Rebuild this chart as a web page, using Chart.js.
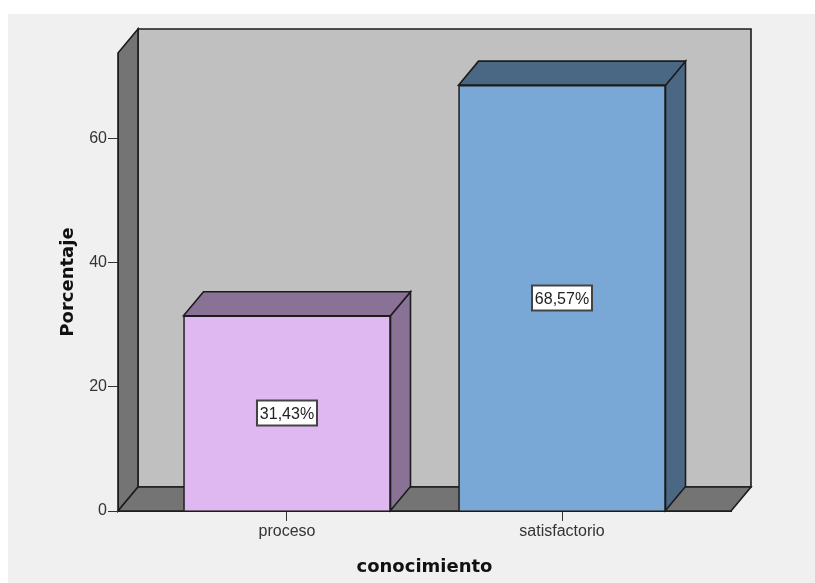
<!DOCTYPE html>
<html><head><meta charset="utf-8">
<script src="https://cdn.jsdelivr.net/npm/chart.js@4"></script>
<style>
html,body{margin:0;padding:0;background:#fff;}
#wrap{position:absolute;left:0;top:0;width:815px;height:583px;}
</style></head><body>
<div id="wrap"><canvas id="c" width="815" height="583"></canvas></div>
<script>
const categories = ['proceso', 'satisfactorio'];
const percentages = [31.43, 68.57];
const barLabels = ['31,43%', '68,57%'];
const frontColors = ['#dfb8f2', '#7aa8d6'];
const sideColors = ['#8a7296', '#4a6884'];
const yTicks = [0, 20, 40, 60];
const yTitle = 'Porcentaje';
const xTitle = 'conocimiento';

const DX = 20, DY = 24, INK = '#1c1c1c';

function poly(ctx, pts, fill) {
  ctx.beginPath();
  pts.forEach((p, i) => i ? ctx.lineTo(p[0], p[1]) : ctx.moveTo(p[0], p[1]));
  ctx.closePath();
  ctx.fillStyle = fill;
  ctx.fill();
  ctx.strokeStyle = INK;
  ctx.lineWidth = 1.6;
  ctx.stroke();
}

const box3d = {
  id: 'box3d',
  beforeDraw(chart) {
    const { ctx, width, height, chartArea: a } = chart;
    ctx.save();
    ctx.fillStyle = '#f0f0f0';
    ctx.fillRect(8, 14, width - 8, height - 14);
    const L = a.left, R = a.right, T = a.top, B = a.bottom;
    poly(ctx, [[L + DX, T - DY], [R + DX, T - DY], [R + DX, B - DY], [L + DX, B - DY]], '#c0c0c0');
    poly(ctx, [[L, T], [L + DX, T - DY], [L + DX, B - DY], [L, B]], '#747474');
    poly(ctx, [[L, B], [L + DX, B - DY], [R + DX, B - DY], [R, B]], '#747474');
    ctx.restore();
  },
  beforeDatasetsDraw(chart) {
    const { ctx } = chart;
    ctx.save();
    chart.getDatasetMeta(0).data.forEach((bar, i) => {
      const hw = bar.width / 2, l = bar.x - hw, r = bar.x + hw, t = bar.y, b = bar.base;
      poly(ctx, [[r, b], [r + DX, b - DY], [r + DX, t - DY], [r, t]], sideColors[i]);
      poly(ctx, [[l, t], [l + DX, t - DY], [r + DX, t - DY], [r, t]], sideColors[i]);
    });
    ctx.restore();
  },
  afterDatasetsDraw(chart) {
    const { ctx } = chart;
    ctx.save();
    ctx.font = '16px "Liberation Sans"';
    ctx.textAlign = 'center';
    ctx.textBaseline = 'middle';
    chart.getDatasetMeta(0).data.forEach((bar, i) => {
      const cy = Math.round((bar.y + bar.base) / 2), w = 60, h = 25;
      ctx.fillStyle = '#fff';
      ctx.strokeStyle = '#444';
      ctx.lineWidth = 2;
      ctx.fillRect(bar.x - w / 2, cy - h / 2, w, h);
      ctx.strokeRect(bar.x - w / 2, cy - h / 2, w, h);
      ctx.fillStyle = '#222';
      ctx.fillText(barLabels[i], bar.x, cy + 2);
    });
    ctx.restore();
  }
};

new Chart(document.getElementById('c'), {
  type: 'bar',
  data: {
    datasets: [{
      data: categories.map((c, i) => ({ x: i, y: percentages[i] })),
      backgroundColor: frontColors,
      borderColor: INK,
      borderWidth: 1.6,
      barThickness: 207
    }]
  },
  plugins: [box3d],
  options: {
    responsive: false,
    animation: false,
    layout: { padding: { left: 0, right: 84, top: 53, bottom: 0 } },
    plugins: { legend: { display: false }, tooltip: { enabled: false } },
    scales: {
      x: {
        type: 'linear',
        offset: false,
        min: -0.6145,
        max: 1.6145,
        afterBuildTicks(s) { s.ticks = categories.map((c, i) => ({ value: i })); },
        afterFit(s) { s.height = 72; },
        ticks: {
          callback: v => categories[v],
          font: { family: '"Liberation Sans"', size: 16 },
          color: '#333',
          padding: 1,
          maxRotation: 0,
          autoSkip: false
        },
        grid: { offset: false, drawOnChartArea: false, tickLength: 10, tickColor: '#333', tickWidth: 1 },
        border: { color: INK, width: 1 },
        title: {
          display: true,
          text: xTitle,
          font: { family: '"DejaVu Sans"', size: 18, weight: 'bold' },
          color: '#111',
          padding: { top: 0, bottom: 5 }
        }
      },
      y: {
        min: 0,
        max: 73.75,
        afterBuildTicks(s) { s.ticks = yTicks.map(v => ({ value: v })); },
        afterFit(s) { s.width = 118; },
        ticks: {
          font: { family: '"Liberation Sans"', size: 16 },
          color: '#333',
          padding: 1
        },
        grid: { drawOnChartArea: false, tickLength: 10, tickColor: '#333', tickWidth: 1 },
        border: { color: INK, width: 1 },
        title: {
          display: true,
          text: yTitle,
          font: { family: '"DejaVu Sans"', size: 18, weight: 'bold' },
          color: '#111',
          padding: { top: 58, bottom: 0 }
        }
      }
    }
  }
});
</script>
</body></html>
